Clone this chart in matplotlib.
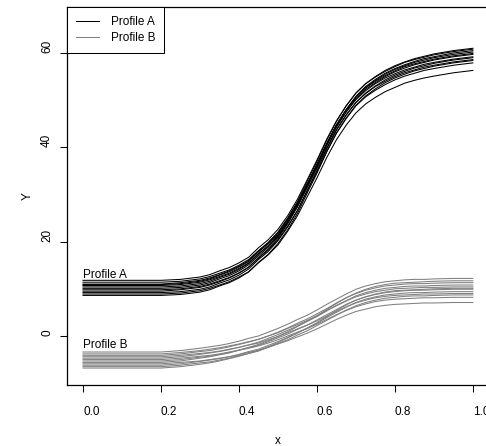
import matplotlib
matplotlib.use("Agg")
import matplotlib.pyplot as plt

plt.rcParams['font.family'] = ['Liberation Sans', 'DejaVu Sans']

x_grid = [0.0, 0.1, 0.2, 0.25, 0.3, 0.325, 0.35, 0.375, 0.4, 0.425, 0.45, 0.475,
          0.5, 0.525, 0.55, 0.575, 0.6, 0.625, 0.65, 0.675, 0.7, 0.725, 0.75,
          0.775, 0.8, 0.825, 0.85, 0.875, 0.9, 0.95, 1.0]

# Profile A curves (black)
profile_a = [
    [11.8, 11.8, 11.8, 12.0, 12.5, 13.0, 13.8, 14.5, 15.5, 16.7, 18.7, 20.4, 22.6, 25.5, 29.0, 33.1, 37.3, 41.7, 45.6, 48.8, 51.5, 53.5, 54.9, 56.1, 57.1, 58.0, 58.6, 59.1, 59.6, 60.3, 60.8],
    [11.4, 11.4, 11.4, 11.6, 12.1, 12.6, 13.3, 14.0, 15.0, 16.2, 18.1, 19.8, 21.9, 24.8, 28.1, 32.2, 36.3, 40.6, 44.4, 47.5, 50.1, 52.0, 53.5, 54.7, 55.6, 56.4, 57.0, 57.6, 58.0, 58.7, 59.2],
    [11.0, 11.0, 11.0, 11.3, 11.8, 12.3, 13.0, 13.8, 14.8, 16.0, 18.0, 19.8, 22.0, 25.0, 28.5, 32.8, 37.0, 41.5, 45.5, 48.8, 51.5, 53.5, 55.0, 56.3, 57.3, 58.1, 58.8, 59.3, 59.8, 60.5, 61.0],
    [10.7, 10.7, 10.7, 10.9, 11.4, 11.9, 12.6, 13.3, 14.3, 15.5, 17.4, 19.1, 21.2, 24.1, 27.5, 31.5, 35.6, 39.9, 43.8, 46.9, 49.5, 51.4, 52.9, 54.0, 55.0, 55.8, 56.4, 57.0, 57.4, 58.1, 58.6],
    [10.4, 10.4, 10.4, 10.6, 11.1, 11.6, 12.4, 13.1, 14.1, 15.4, 17.4, 19.1, 21.4, 24.3, 27.8, 32.1, 36.3, 40.8, 44.8, 48.0, 50.7, 52.7, 54.2, 55.5, 56.5, 57.3, 58.0, 58.5, 59.0, 59.7, 60.2],
    [10.1, 10.1, 10.1, 10.3, 10.8, 11.3, 12.1, 12.8, 13.8, 15.1, 17.0, 18.8, 21.0, 24.0, 27.5, 31.7, 35.9, 40.4, 44.3, 47.5, 50.3, 52.3, 53.7, 55.0, 56.0, 56.8, 57.5, 58.0, 58.5, 59.2, 59.7],
    [9.8, 9.8, 9.8, 10.0, 10.5, 11.0, 11.7, 12.4, 13.4, 14.6, 16.5, 18.2, 20.4, 23.3, 26.6, 30.7, 34.8, 39.1, 43.0, 46.1, 48.8, 50.7, 52.1, 53.3, 54.3, 55.1, 55.7, 56.3, 56.7, 57.4, 57.9],
    [9.5, 9.5, 9.5, 9.8, 10.3, 10.8, 11.5, 12.3, 13.3, 14.6, 16.6, 18.4, 20.7, 23.8, 27.4, 31.7, 36.0, 40.6, 44.7, 48.0, 50.8, 52.9, 54.4, 55.7, 56.7, 57.5, 58.2, 58.8, 59.2, 60.0, 60.5],
    [9.2, 9.2, 9.2, 9.4, 9.9, 10.4, 11.2, 11.9, 12.9, 14.2, 16.2, 17.9, 20.2, 23.1, 26.6, 30.9, 35.1, 39.6, 43.6, 46.8, 49.5, 51.5, 53.0, 54.3, 55.3, 56.1, 56.8, 57.3, 57.8, 58.5, 59.0],
    [8.9, 8.9, 8.9, 9.1, 9.6, 10.1, 10.8, 11.5, 12.5, 13.6, 15.5, 17.2, 19.3, 22.2, 25.5, 29.5, 33.5, 37.8, 41.6, 44.7, 47.3, 49.2, 50.6, 51.8, 52.7, 53.6, 54.2, 54.7, 55.1, 55.8, 56.3],
    [8.6, 8.6, 8.6, 8.8, 9.3, 9.8, 10.6, 11.3, 12.3, 13.6, 15.6, 17.3, 19.6, 22.5, 26.0, 30.3, 34.5, 39.0, 43.0, 46.2, 48.9, 50.9, 52.4, 53.7, 54.7, 55.5, 56.2, 56.7, 57.2, 57.9, 58.4],
    [10.9, 10.9, 10.9, 11.1, 11.6, 12.1, 12.9, 13.6, 14.6, 15.8, 17.8, 19.5, 21.7, 24.6, 28.1, 32.2, 36.4, 40.8, 44.7, 47.9, 50.6, 52.6, 54.0, 55.2, 56.2, 57.1, 57.7, 58.2, 58.7, 59.4, 59.9],
]

# Profile B curves (gray)
profile_b = [
    [-3.4, -3.4, -3.4, -3.1, -2.6, -2.3, -2.0, -1.6, -1.1, -0.5, 0.0, 0.8, 1.6, 2.5, 3.5, 4.4, 5.5, 6.7, 7.8, 8.9, 9.9, 10.6, 11.1, 11.5, 11.7, 11.9, 12.0, 12.0, 12.1, 12.2, 12.2],
    [-3.8, -3.8, -3.8, -3.5, -3.1, -2.8, -2.5, -2.1, -1.7, -1.2, -0.7, 0.0, 0.7, 1.6, 2.4, 3.3, 4.3, 5.4, 6.4, 7.4, 8.3, 8.9, 9.4, 9.7, 10.0, 10.1, 10.2, 10.3, 10.3, 10.4, 10.4],
    [-4.1, -4.1, -4.1, -3.8, -3.3, -3.1, -2.7, -2.3, -1.8, -1.3, -0.7, 0.0, 0.8, 1.7, 2.7, 3.6, 4.7, 5.8, 7.0, 8.1, 9.0, 9.7, 10.2, 10.6, 10.8, 11.0, 11.1, 11.1, 11.2, 11.3, 11.3],
    [-4.4, -4.4, -4.4, -4.1, -3.7, -3.5, -3.2, -2.8, -2.4, -1.9, -1.5, -0.8, -0.1, 0.7, 1.5, 2.3, 3.2, 4.2, 5.2, 6.2, 7.0, 7.6, 8.1, 8.4, 8.6, 8.7, 8.8, 8.9, 8.9, 9.0, 9.0],
    [-4.7, -4.7, -4.7, -4.4, -3.9, -3.6, -3.3, -2.9, -2.4, -1.9, -1.3, -0.5, 0.3, 1.2, 2.1, 3.1, 4.1, 5.3, 6.5, 7.5, 8.5, 9.2, 9.7, 10.1, 10.3, 10.5, 10.6, 10.6, 10.7, 10.8, 10.8],
    [-5.0, -5.0, -5.0, -4.7, -4.3, -4.1, -3.8, -3.4, -3.0, -2.6, -2.1, -1.5, -0.8, 0.0, 0.8, 1.6, 2.5, 3.5, 4.5, 5.4, 6.2, 6.8, 7.3, 7.6, 7.8, 7.9, 8.0, 8.1, 8.1, 8.2, 8.2],
    [-5.3, -5.3, -5.3, -5.0, -4.5, -4.3, -3.9, -3.5, -3.0, -2.5, -2.0, -1.2, -0.4, 0.4, 1.4, 2.3, 3.4, 4.5, 5.6, 6.7, 7.6, 8.3, 8.8, 9.2, 9.4, 9.6, 9.7, 9.7, 9.8, 9.9, 9.9],
    [-5.6, -5.6, -5.6, -5.3, -4.7, -4.4, -4.0, -3.6, -3.0, -2.4, -1.8, -1.0, -0.1, 0.9, 2.0, 3.1, 4.3, 5.6, 6.9, 8.1, 9.1, 9.9, 10.5, 10.9, 11.2, 11.3, 11.4, 11.5, 11.6, 11.7, 11.7],
    [-5.9, -5.9, -5.9, -5.6, -5.3, -5.0, -4.7, -4.4, -4.0, -3.5, -3.0, -2.4, -1.7, -1.0, -0.2, 0.6, 1.5, 2.5, 3.5, 4.4, 5.2, 5.7, 6.2, 6.5, 6.7, 6.8, 6.9, 7.0, 7.0, 7.1, 7.1],
    [-6.2, -6.2, -6.2, -5.9, -5.4, -5.1, -4.8, -4.4, -3.9, -3.3, -2.8, -2.0, -1.2, -0.3, 0.7, 1.6, 2.7, 3.9, 5.0, 6.1, 7.1, 7.8, 8.3, 8.7, 8.9, 9.1, 9.2, 9.2, 9.3, 9.4, 9.4],
    [-6.5, -6.5, -6.5, -6.2, -5.7, -5.5, -5.1, -4.7, -4.2, -3.7, -3.2, -2.4, -1.6, -0.8, 0.2, 1.1, 2.2, 3.3, 4.4, 5.5, 6.4, 7.1, 7.6, 8.0, 8.2, 8.4, 8.5, 8.5, 8.6, 8.7, 8.7],
    [-6.8, -6.8, -6.8, -6.5, -6.0, -5.7, -5.3, -4.8, -4.3, -3.7, -3.1, -2.3, -1.4, -0.4, 0.6, 1.7, 2.8, 4.1, 5.4, 6.6, 7.6, 8.3, 8.9, 9.3, 9.6, 9.7, 9.8, 9.9, 10.0, 10.1, 10.1],
]

labels = ["Profile A", "Profile B"]
colors = ["black", "#7f7f7f"]
label_y = [12.3, -2.5]   # baselines of the in-plot labels
xticks = [0.0, 0.2, 0.4, 0.6, 0.8, 1.0]
yticks = [0, 20, 40, 60]

fig = plt.figure(figsize=(4.86, 4.46), dpi=100)
ax = fig.add_axes([0.1379, 0.1368, 0.868, 0.8475])

for i, curve in enumerate(profile_a):
    ax.plot(x_grid, curve, color=colors[0], lw=0.75,
            label=labels[0] if i == 0 else None)
for i, curve in enumerate(profile_b):
    ax.plot(x_grid, curve, color=colors[1], lw=0.75,
            label=labels[1] if i == 0 else None)

for lab, yy in zip(labels, label_y):
    ax.text(0.0, yy, lab, fontsize=8.5, ha='left', va='baseline')

ax.set_xlim(-0.041, 1.041)
ax.set_ylim(-10.39, 69.75)
ax.set_xticks(xticks)
ax.set_xticklabels([f"{t:.1f}" for t in xticks], ha='left')
ax.set_yticks(yticks)
ax.set_yticklabels([str(t) for t in yticks], rotation=90, va='bottom')
ax.tick_params(axis='both', labelsize=8.5, length=5, width=0.75, direction='out')
ax.tick_params(axis='x', pad=10)
ax.tick_params(axis='y', pad=5)
ax.set_xlabel("x", fontsize=8.5, labelpad=12.5)
ax.set_ylabel("Y", fontsize=8.5, labelpad=5.5)
for sp in ax.spines.values():
    sp.set_linewidth(0.9)
ax.spines['right'].set_visible(False)   # falls outside the picture

leg = ax.legend(loc='upper left', fontsize=8.5, frameon=True, fancybox=False,
                edgecolor='black', framealpha=1, borderaxespad=0,
                handlelength=2.0, handletextpad=0.95, labelspacing=0.35,
                borderpad=0.75)
leg.get_frame().set_linewidth(0.75)

fig.savefig("out.png", dpi=100)
